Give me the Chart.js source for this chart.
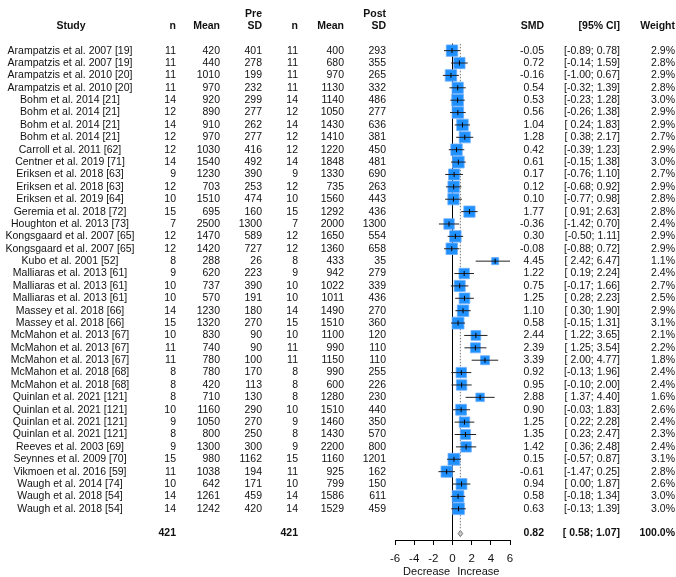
<!DOCTYPE html>
<html>
<head>
<meta charset="utf-8">
<script src="https://cdn.jsdelivr.net/npm/chart.js@4.4.1/dist/chart.umd.min.js"></script>
<style>
  html, body { margin: 0; padding: 0; background: #fff; }
  canvas { display: block; }
</style>
</head>
<body>
<canvas id="forest" width="676" height="577"></canvas>
<script>
// datos
const studies = [
  'Arampatzis et al. 2007 [19]', 'Arampatzis et al. 2007 [19]', 'Arampatzis et al. 2010 [20]', 'Arampatzis et al. 2010 [20]',
  'Bohm et al. 2014 [21]', 'Bohm et al. 2014 [21]', 'Bohm et al. 2014 [21]', 'Bohm et al. 2014 [21]',
  'Carroll et al. 2011 [62]', 'Centner et al. 2019 [71]', 'Eriksen et al. 2018 [63]', 'Eriksen et al. 2018 [63]',
  'Eriksen et al. 2019 [64]', 'Geremia et al. 2018 [72]', 'Houghton et al. 2013 [73]', 'Kongsgaard et al. 2007 [65]',
  'Kongsgaard et al. 2007 [65]', 'Kubo et al. 2001 [52]', 'Malliaras et al. 2013 [61]', 'Malliaras et al. 2013 [61]',
  'Malliaras et al. 2013 [61]', 'Massey et al. 2018 [66]', 'Massey et al. 2018 [66]', 'McMahon et al. 2013 [67]',
  'McMahon et al. 2013 [67]', 'McMahon et al. 2013 [67]', 'McMahon et al. 2018 [68]', 'McMahon et al. 2018 [68]',
  'Quinlan et al. 2021 [121]', 'Quinlan et al. 2021 [121]', 'Quinlan et al. 2021 [121]', 'Quinlan et al. 2021 [121]',
  'Reeves et al. 2003 [69]', 'Seynnes et al. 2009 [70]', 'Vikmoen et al. 2016 [59]', 'Waugh et al. 2014 [74]',
  'Waugh et al. 2018 [54]', 'Waugh et al. 2018 [54]'
];
const nPre     = [11, 11, 11, 11, 14, 12, 14, 12, 12, 14, 9, 12, 10, 15, 7, 12, 12, 8, 9, 10, 10, 14, 15, 10, 11, 11, 8, 8, 8, 10, 9, 8, 9, 15, 11, 10, 14, 14];
const meanPre  = [420, 440, 1010, 970, 920, 890, 910, 970, 1030, 1540, 1230, 703, 1510, 695, 2500, 1470, 1420, 288, 620, 737, 570, 1230, 1320, 830, 740, 780, 780, 420, 710, 1160, 1050, 800, 1300, 980, 1038, 642, 1261, 1242];
const sdPre    = [401, 278, 199, 232, 299, 277, 262, 277, 416, 492, 390, 253, 474, 160, 1300, 589, 727, 26, 223, 390, 191, 180, 270, 90, 90, 100, 170, 113, 130, 290, 270, 250, 300, 1162, 194, 171, 459, 420];
const nPost    = [11, 11, 11, 11, 14, 12, 14, 12, 12, 14, 9, 12, 10, 15, 7, 12, 12, 8, 9, 10, 10, 14, 15, 10, 11, 11, 8, 8, 8, 10, 9, 8, 9, 15, 11, 10, 14, 14];
const meanPost = [400, 680, 970, 1130, 1140, 1050, 1430, 1410, 1220, 1848, 1330, 735, 1560, 1292, 2000, 1650, 1360, 433, 942, 1022, 1011, 1490, 1510, 1100, 990, 1150, 990, 600, 1280, 1510, 1460, 1430, 2200, 1160, 925, 799, 1586, 1529];
const sdPost   = [293, 355, 265, 332, 486, 277, 636, 381, 450, 481, 690, 263, 443, 436, 1300, 554, 658, 35, 279, 339, 436, 270, 360, 120, 110, 110, 255, 226, 230, 440, 350, 570, 800, 1201, 162, 150, 611, 459];
const smd      = [-0.05, 0.72, -0.16, 0.54, 0.53, 0.56, 1.04, 1.28, 0.42, 0.61, 0.17, 0.12, 0.10, 1.77, -0.36, 0.30, -0.08, 4.45, 1.22, 0.75, 1.25, 1.10, 0.58, 2.44, 2.39, 3.39, 0.92, 0.95, 2.88, 0.90, 1.25, 1.35, 1.42, 0.15, -0.61, 0.94, 0.58, 0.63];
const ciLow    = [-0.89, -0.14, -1.00, -0.32, -0.23, -0.26, 0.24, 0.38, -0.39, -0.15, -0.76, -0.68, -0.77, 0.91, -1.42, -0.50, -0.88, 2.42, 0.19, -0.17, 0.28, 0.30, -0.15, 1.22, 1.25, 2.00, -0.13, -0.10, 1.37, -0.03, 0.22, 0.23, 0.36, -0.57, -1.47, 0.00, -0.18, -0.13];
const ciHigh   = [0.78, 1.59, 0.67, 1.39, 1.28, 1.38, 1.83, 2.17, 1.23, 1.38, 1.10, 0.92, 0.98, 2.63, 0.70, 1.11, 0.72, 6.47, 2.24, 1.66, 2.23, 1.90, 1.31, 3.65, 3.54, 4.77, 1.96, 2.00, 4.40, 1.83, 2.28, 2.47, 2.48, 0.87, 0.25, 1.87, 1.34, 1.39];
const weight   = [2.9, 2.8, 2.9, 2.8, 3.0, 2.9, 2.9, 2.7, 2.9, 3.0, 2.7, 2.9, 2.8, 2.8, 2.4, 2.9, 2.9, 1.1, 2.4, 2.7, 2.5, 2.9, 3.1, 2.1, 2.2, 1.8, 2.4, 2.4, 1.6, 2.6, 2.4, 2.3, 2.4, 3.1, 2.8, 2.6, 3.0, 3.0];
const totalPre = 421;
const totalPost = 421;
const pooled = [0.82, 0.58, 1.07];   // SMD, inferior, superior
const pooledWeight = 100.0;
const xTicks = [-6, -4, -2, 0, 2, 4, 6];

const summaryRow = studies.length + 1;
const FONT = '"Liberation Sans", Arial, sans-serif';

function fmtCI(lo, hi) {
    const a = lo < 0 ? lo.toFixed(2) : ' ' + lo.toFixed(2);
    return '[' + a + '; ' + hi.toFixed(2) + ']';
}

// lineas de los intervalos, separadas con puntos nulos
const ciData = [];
studies.forEach(function (s, i) {
    ciData.push({ x: ciLow[i], y: i }, { x: ciHigh[i], y: i }, { x: null, y: null });
});

const pointData = studies.map(function (s, i) { return { x: smd[i], y: i }; });

const tablePlugin = {
    id: 'tabla',
    afterDraw: function (chart) {
        const ctx = chart.ctx;
        const y = chart.scales.y;
        const x = chart.scales.x;
        ctx.save();
        ctx.fillStyle = '#111';
        ctx.textBaseline = 'middle';

        function txt(s, px, row, align) {
            ctx.textAlign = align || 'right';
            ctx.fillText(s, px, y.getPixelForValue(row));
        }

        // cabecera
        ctx.font = 'bold 10.5px ' + FONT;
        txt('Pre', 262, -2.95);
        txt('Post', 386, -2.95);
        txt('Study', 71, -1.95, 'center');
        txt('n', 176, -1.95);
        txt('Mean', 220, -1.95);
        txt('SD', 262, -1.95);
        txt('n', 298, -1.95);
        txt('Mean', 344, -1.95);
        txt('SD', 386, -1.95);
        txt('SMD', 544, -1.95);
        txt('[95% CI]', 620, -1.95);
        txt('Weight', 675, -1.95);

        ctx.font = '10.5px ' + FONT;
        studies.forEach(function (s, i) {
            txt(s, 70, i, 'center');
            txt(String(nPre[i]), 176, i);
            txt(String(meanPre[i]), 220, i);
            txt(String(sdPre[i]), 262, i);
            txt(String(nPost[i]), 298, i);
            txt(String(meanPost[i]), 344, i);
            txt(String(sdPost[i]), 386, i);
            txt(smd[i].toFixed(2), 544, i);
            txt(fmtCI(ciLow[i], ciHigh[i]), 620, i);
            txt(weight[i].toFixed(1) + '%', 675, i);
        });

        ctx.font = 'bold 10.5px ' + FONT;
        txt(String(totalPre), 176, summaryRow);
        txt(String(totalPost), 298, summaryRow);
        txt(pooled[0].toFixed(2), 544, summaryRow);
        txt(fmtCI(pooled[1], pooled[2]), 620, summaryRow);
        txt(pooledWeight.toFixed(1) + '%', 675, summaryRow);

        // etiquetas bajo el eje
        ctx.font = '11px ' + FONT;
        ctx.textAlign = 'center';
        ctx.fillText('Decrease', x.getPixelForValue(-2.7), 572);
        ctx.fillText('Increase', x.getPixelForValue(2.7), 572);
        ctx.restore();
    }
};

const ctx = document.getElementById('forest').getContext('2d');
new Chart(ctx, {
    type: 'scatter',
    data: {
        datasets: [
            {   // marca vertical en la estimacion
                data: pointData,
                pointStyle: 'line',
                rotation: 90,
                pointRadius: 2.5,
                borderColor: '#000',
                borderWidth: 1
            },
            {   // intervalos de confianza
                data: ciData,
                showLine: true,
                spanGaps: false,
                borderColor: '#222',
                borderWidth: 1,
                pointRadius: 0
            },
            {   // cuadrados por peso
                data: pointData,
                pointStyle: 'rect',
                pointRadius: weight.map(function (w) { return 8.1 * Math.sqrt(w / 2.9); }),
                backgroundColor: 'rgb(30,144,255)',
                borderColor: 'rgba(110,175,255,0.8)',
                borderWidth: 1
            },
            {   // linea de efecto nulo
                data: [{ x: 0, y: -0.55 }, { x: 0, y: 39.52 }],
                showLine: true,
                borderColor: '#000',
                borderWidth: 1,
                pointRadius: 0
            },
            {   // efecto combinado (punteada)
                data: [{ x: pooled[0], y: -0.55 }, { x: pooled[0], y: summaryRow - 0.3 }],
                showLine: true,
                borderColor: '#777',
                borderWidth: 1,
                borderDash: [1.5, 1.5],
                pointRadius: 0
            },
            {   // diamante
                data: [
                    { x: pooled[1], y: summaryRow }, { x: pooled[0], y: summaryRow - 0.25 },
                    { x: pooled[2], y: summaryRow }, { x: pooled[0], y: summaryRow + 0.25 },
                    { x: pooled[1], y: summaryRow }
                ],
                showLine: true,
                fill: 'shape',
                backgroundColor: '#c8c8c8',
                borderColor: '#777',
                borderWidth: 1,
                pointRadius: 0
            }
        ]
    },
    options: {
        responsive: false,
        animation: false,
        layout: { padding: { left: 395, right: 166, top: 0, bottom: 0 } },
        plugins: { legend: { display: false }, tooltip: { enabled: false } },
        scales: {
            x: {
                type: 'linear',
                min: -6,
                max: 6,
                afterBuildTicks: function (axis) {
                    axis.ticks = xTicks.map(function (v) { return { value: v }; });
                },
                afterFit: function (axis) { axis.height = 37; },
                grid: { drawOnChartArea: false, drawTicks: true, tickLength: 5, color: '#000' },
                border: { display: true, color: '#000' },
                ticks: { color: '#111', padding: 7, font: { family: FONT, size: 11.5 } }
            },
            y: {
                type: 'linear',
                display: false,
                reverse: true,
                min: -3.333,
                max: 39.52
            }
        }
    },
    plugins: [tablePlugin]
});
</script>
</body>
</html>
